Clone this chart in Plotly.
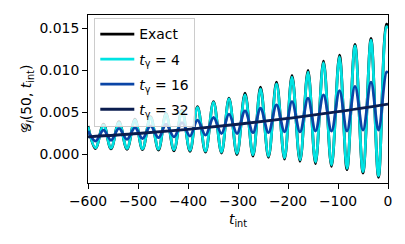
import plotly.graph_objects as go

# times of extrema (peaks/troughs), plus end point
t_ext = [-600, -585, -569, -554, -538, -522, -506, -491, -475, -459,
         -444, -428, -412, -396, -381, -365, -349, -333, -318, -302,
         -286, -270, -255, -239, -223, -207, -192, -176, -160, -145,
         -129, -113, -97, -82, -66, -50, -34, -19, -3, 0]

exact = [0.0034, 0.00072, 0.0036, 0.00068, 0.0039, 0.00063, 0.0042, 0.00058, 0.0045, 0.00052,
         0.0049, 0.00045, 0.0053, 0.00038, 0.0057, 0.00028, 0.0063, 0.00018, 0.0067, 0.0000,
         0.0073, -0.00018, 0.0080, -0.00033, 0.0086, -0.00055, 0.0094, -0.0008, 0.0100, -0.00107,
         0.0111, -0.0014, 0.0118, -0.0018, 0.0131, -0.0022, 0.0138, -0.0027, 0.0155, 0.0153]

t4 = [0.0033, 0.0008, 0.0035, 0.00076, 0.0038, 0.00072, 0.0041, 0.00068, 0.0044, 0.00064,
      0.0048, 0.00058, 0.0052, 0.0005, 0.0056, 0.0004, 0.0062, 0.0003, 0.0066, 0.00013,
      0.0071, -0.00004, 0.0078, -0.00019, 0.0084, -0.0004, 0.0092, -0.00064, 0.0098, -0.0009,
      0.0109, -0.00123, 0.0116, -0.00163, 0.0129, -0.00203, 0.0136, -0.00252, 0.0152, 0.0150]

t16 = [0.0028, 0.0016, 0.0029, 0.0017, 0.0031, 0.0018, 0.0032, 0.0019, 0.0034, 0.0020,
       0.0036, 0.0021, 0.0038, 0.0022, 0.0041, 0.0023, 0.0044, 0.0025, 0.0048, 0.0025,
       0.0052, 0.0026, 0.0055, 0.0026, 0.0059, 0.0027, 0.0063, 0.0027, 0.0067, 0.0028,
       0.0071, 0.0028, 0.0076, 0.0028, 0.0081, 0.0029, 0.0086, 0.0029, 0.0098, 0.0097]

t_trend = [-600, -500, -400, -300, -200, -100, 0]
t32 = [0.0021, 0.0025, 0.0030, 0.0036, 0.0043, 0.0051, 0.0060]

x_ticks = [-600, -500, -400, -300, -200, -100, 0]
y_ticks = [0.0, 0.005, 0.010, 0.015]
y_ticktext = ["0.000", "0.005", "0.010", "0.015"]

FONT = "DejaVu Sans"
FS = 13.9

fig = go.Figure()
series = [
    (t_ext, exact, "Exact", "black"),
    (t_ext, t4, "<i>t</i><sub>γ</sub> = 4", "#00e3e3"),
    (t_ext, t16, "<i>t</i><sub>γ</sub> = 16", "#0a45a6"),
    (t_trend, t32, "<i>t</i><sub>γ</sub> = 32", "#0b1d4f"),
]
for i, (xs, ys, nm, col) in enumerate(series):
    fig.add_trace(go.Scatter(x=xs, y=ys, mode="lines", name=nm, legendgroup=f"g{i}",
                             line=dict(color=col, width=2.8, shape="spline", smoothing=1)))

axis_common = dict(showgrid=False, zeroline=False, showline=True, linecolor="black",
                   linewidth=1.1, mirror=True, ticks="outside", ticklen=4.9, tickwidth=1.1,
                   tickcolor="black", tickfont=dict(family=FONT, size=FS, color="black"))

fig.update_layout(
    width=405, height=244,
    margin=dict(l=88, r=17, t=15, b=61),
    paper_bgcolor="white", plot_bgcolor="white",
    font=dict(family=FONT, size=FS, color="black"),
    xaxis=dict(range=[-600, 0], tickvals=x_ticks,
               title=dict(text="<i>t</i><sub>int</sub>", font=dict(family=FONT, size=FS), standoff=6),
               **axis_common),
    yaxis=dict(range=[-0.00338, 0.01658], tickvals=y_ticks, ticktext=y_ticktext,
               **axis_common),
    legend=dict(x=0.021, y=0.985, xanchor="left", yanchor="top",
                bgcolor="rgba(255,255,255,0.8)", bordercolor="#cccccc", borderwidth=1,
                tracegroupgap=4, itemwidth=34,
                font=dict(family=FONT, size=FS, color="black")),
    showlegend=True,
    annotations=[dict(text="𝒢<sub><i>l</i></sub>(50, <i>t</i><sub>int</sub>)",
                      xref="paper", yref="paper", x=-0.2037, y=0.5,
                      xanchor="center", yanchor="middle", textangle=-90, showarrow=False,
                      font=dict(family=FONT, size=FS, color="black"))],
)

fig.write_html("out.html", config={"displayModeBar": False},
               post_script="document.body.style.margin='0';")
